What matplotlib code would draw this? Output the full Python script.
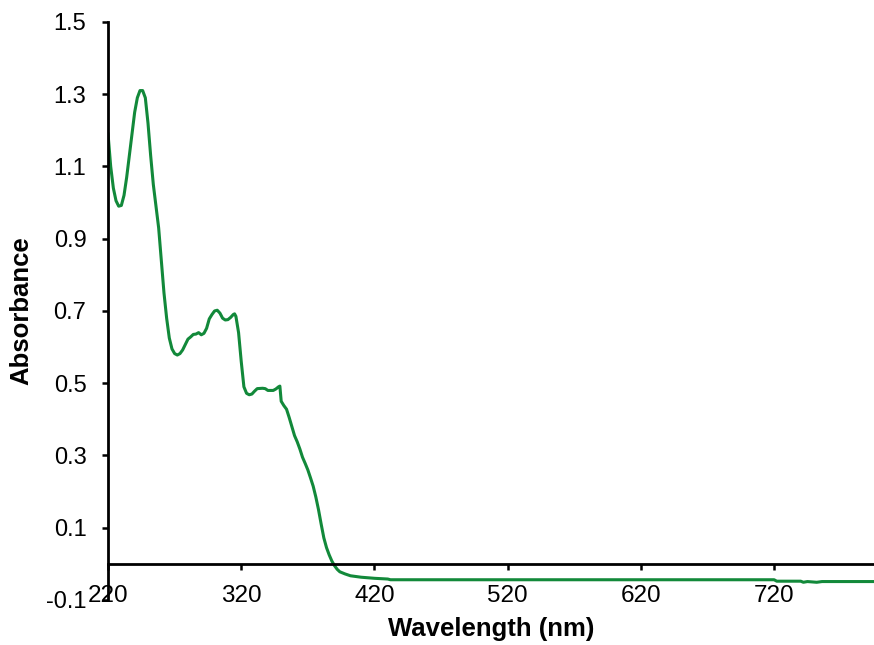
import matplotlib
matplotlib.use("Agg")
import matplotlib.pyplot as plt

plt.rcParams['font.family'] = ['Liberation Sans', 'DejaVu Sans']

# espectro UV-Vis
wavelength = [220, 222, 224, 226, 228, 230, 232, 234, 236, 238, 240, 242, 244, 246, 248,
              250, 252, 254, 256, 258, 260, 262, 264, 266, 268, 270, 272, 274, 276, 278,
              280, 282, 284, 286, 288, 290, 292, 294, 296, 298, 300, 302, 304, 306, 308,
              310, 312, 314, 315, 316, 318, 320, 322, 324, 326, 328, 330, 332, 336, 338,
              340, 344, 346, 348, 349, 350, 352, 354, 356, 358, 360, 362, 364, 366, 368,
              370, 372, 374, 376, 378, 380, 382, 384, 386, 388, 390, 392, 394, 398, 402,
              410, 420, 430, 432, 500, 600, 700, 720, 722, 740, 742, 745, 752, 756, 795]
absorbance = [1.19, 1.10, 1.04, 1.005, 0.99, 0.992, 1.02, 1.07, 1.13, 1.19, 1.25, 1.29, 1.31, 1.31, 1.29,
              1.22, 1.13, 1.05, 0.99, 0.93, 0.84, 0.75, 0.68, 0.625, 0.595, 0.582, 0.578, 0.582, 0.592, 0.607,
              0.622, 0.628, 0.635, 0.636, 0.64, 0.634, 0.638, 0.652, 0.678, 0.69, 0.70, 0.702, 0.694, 0.68, 0.675,
              0.676, 0.682, 0.690, 0.692, 0.685, 0.64, 0.56, 0.49, 0.472, 0.468, 0.47, 0.478, 0.485, 0.486, 0.485,
              0.48, 0.48, 0.484, 0.49, 0.492, 0.45, 0.438, 0.428, 0.405, 0.38, 0.355, 0.338, 0.318, 0.295, 0.278,
              0.26, 0.238, 0.215, 0.185, 0.15, 0.11, 0.072, 0.045, 0.025, 0.008, -0.005, -0.015, -0.022, -0.028, -0.033,
              -0.037, -0.040, -0.042, -0.044, -0.044, -0.044, -0.044, -0.044, -0.048, -0.048, -0.051, -0.049, -0.051, -0.049, -0.049]

xticks = [220, 320, 420, 520, 620, 720]
yticks = [-0.1, 0.1, 0.3, 0.5, 0.7, 0.9, 1.1, 1.3, 1.5]

fig = plt.figure(figsize=(8.74, 6.45), dpi=100)
ax = fig.add_axes([0.1236, 0.0698, 0.8764, 0.8962])

ax.plot(wavelength, absorbance, color='#12893A', linewidth=2.2)

ax.set_xlim(220, 795)
ax.set_ylim(-0.1, 1.5)
ax.set_xticks(xticks)
ax.set_yticks(yticks)
ax.set_yticklabels(['-0.1', '0.1', '0.3', '0.5', '0.7', '0.9', '1.1', '1.3', '1.5'])

# eje x cruzando en cero
ax.spines['bottom'].set_position(('data', 0))
ax.spines['top'].set_visible(False)
ax.spines['right'].set_visible(False)
ax.spines['bottom'].set_linewidth(2.0)
ax.spines['left'].set_linewidth(2.0)

ax.tick_params(axis='x', direction='out', length=4, width=1.8, pad=11, labelsize=17.5)
ax.tick_params(axis='y', direction='out', length=4, width=1.8, pad=11.5, labelsize=17)

ax.set_xlabel('Wavelength (nm)', fontsize=18.5, fontweight='bold')
ax.set_ylabel('Absorbance', fontsize=18.5, fontweight='bold')
ax.xaxis.set_label_coords(0.5, -0.03)
ax.yaxis.set_label_coords(-0.098, 0.5)

plt.savefig('out.png', dpi=100)
